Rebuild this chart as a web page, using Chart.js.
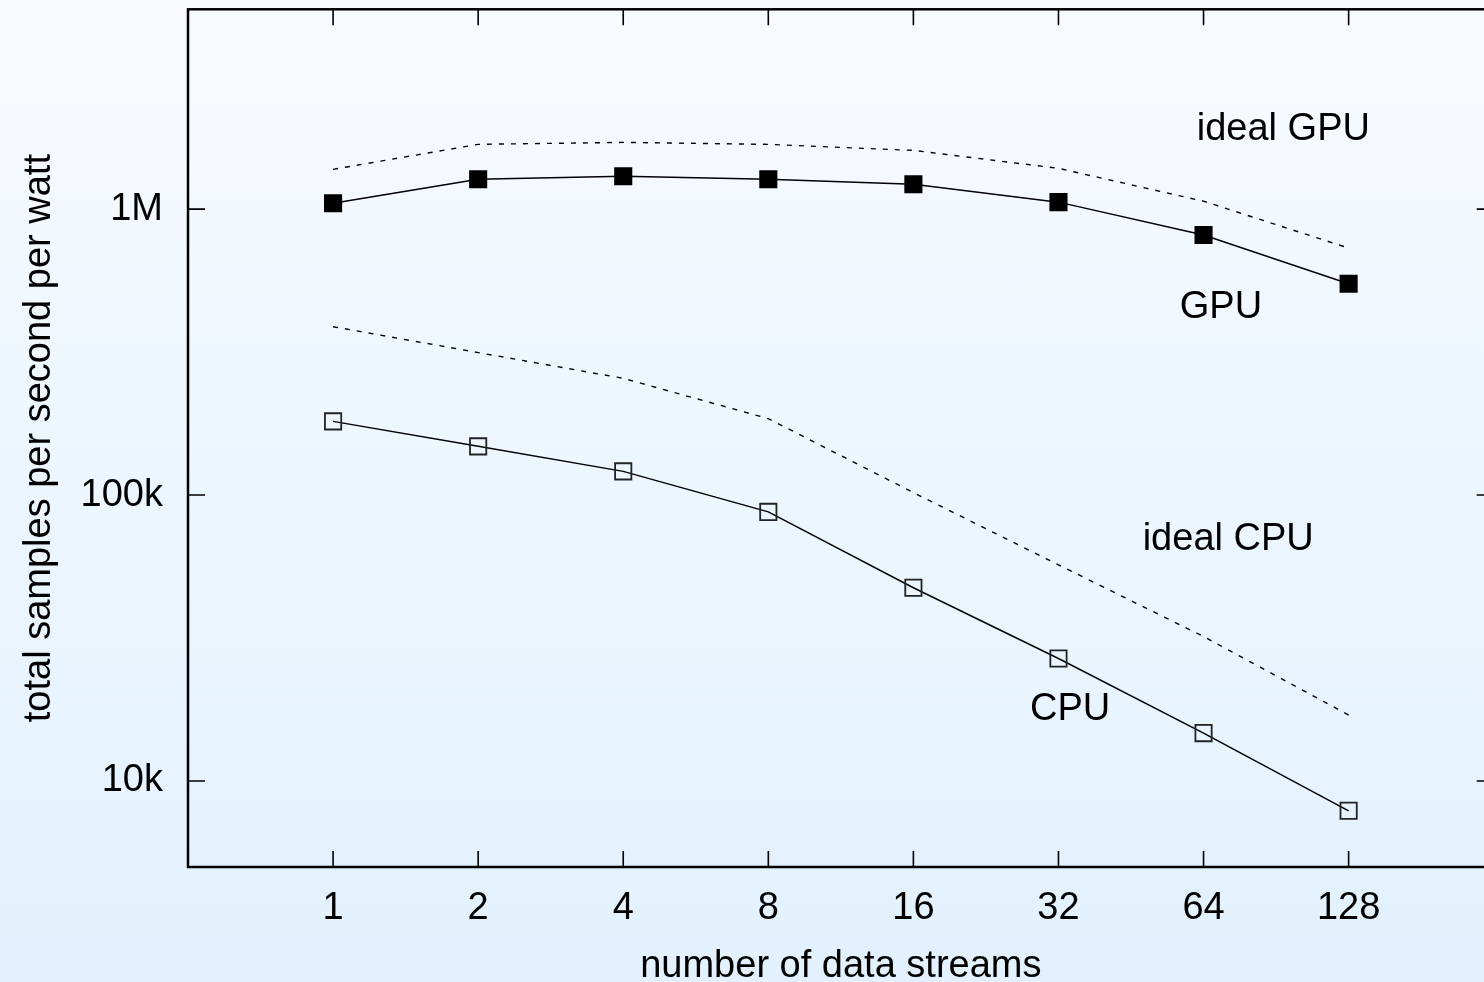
<!DOCTYPE html>
<html>
<head>
<meta charset="utf-8">
<script src="https://cdn.jsdelivr.net/npm/chart.js@4.4.1/dist/chart.umd.min.js"></script>
<style>
  html, body { margin: 0; padding: 0; overflow: hidden; }
  body {
    width: 1484px; height: 982px;
    background: linear-gradient(to bottom, rgb(247,251,255), rgb(226,241,253));
  }
  #wrap { width: 1507px; height: 986px; margin-top: -4px; }
</style>
</head>
<body>
<div id="wrap"><canvas id="chart"></canvas></div>
<script>
// data streams: 1,2,4,...,128 plotted at log2 positions
const streams = [1, 2, 4, 8, 16, 32, 64, 128];
const gpu = [1049000, 1272000, 1303000, 1272000, 1222000, 1058000, 812000, 548000];
const idealGpu = [1378000, 1685000, 1712000, 1685000, 1605000, 1389000, 1066000, 731000];
const cpu = [181000, 148000, 121000, 87300, 47400, 26800, 14700, 7860];
const idealCpu = [388000, 315000, 256000, 185000, 102000, 57000, 32000, 17000];
const yTicks = [10000, 100000, 1000000];
const yTickLabels = ['10k', '100k', '1M'];

// curve labels, placed in data coordinates (x in log2 units)
const labelText = ['ideal GPU', 'GPU', 'ideal CPU', 'CPU'];
const labelX = [6.55, 6.12, 6.17, 5.08];
const labelY = [1900000, 452000, 69700, 17800];

const FONT = '"Liberation Sans", Arial, Helvetica, sans-serif';
const FS = 38;
const pts = (arr) => arr.map((v, i) => ({ x: Math.log2(streams[i]), y: v }));

const noPad = (s) => { s.paddingTop = 0; s.paddingBottom = 0; s.paddingLeft = 0; s.paddingRight = 0; };

const framePlugin = {
  id: 'frame',
  afterDatasetsDraw(chart) {
    const { ctx, chartArea: a, scales: { x, y } } = chart;
    ctx.save();
    ctx.strokeStyle = '#000';
    ctx.lineWidth = 1.6;
    ctx.beginPath();
    streams.forEach((s, i) => {
      const px = x.getPixelForValue(i);
      ctx.moveTo(px, a.bottom); ctx.lineTo(px, a.bottom - 16);
      ctx.moveTo(px, a.top); ctx.lineTo(px, a.top + 16);
    });
    yTicks.forEach(v => {
      const py = y.getPixelForValue(v);
      ctx.moveTo(a.left, py); ctx.lineTo(a.left + 17, py);
      ctx.moveTo(a.right, py); ctx.lineTo(a.right - 17, py);
    });
    ctx.stroke();
    ctx.lineWidth = 2.5;
    ctx.strokeRect(a.left, a.top, a.right - a.left, a.bottom - a.top);

    ctx.fillStyle = '#000';
    ctx.font = FS + 'px ' + FONT;
    ctx.textAlign = 'center';
    ctx.textBaseline = 'middle';
    labelText.forEach((t, i) => {
      ctx.fillText(t, x.getPixelForValue(labelX[i]), y.getPixelForValue(labelY[i]));
    });
    ctx.restore();
  }
};

new Chart(document.getElementById('chart'), {
  type: 'line',
  data: {
    datasets: [
      {
        label: 'GPU',
        data: pts(gpu),
        borderColor: '#000',
        borderWidth: 1.5,
        pointStyle: 'rect',
        pointRadius: 12.8,
        pointBackgroundColor: '#000',
        pointBorderWidth: 0
      },
      {
        label: 'ideal GPU',
        data: pts(idealGpu),
        borderColor: '#000',
        borderWidth: 1.4,
        borderDash: [5, 7],
        pointRadius: 0
      },
      {
        label: 'CPU',
        data: pts(cpu),
        borderColor: '#000',
        borderWidth: 1.5,
        pointStyle: 'rect',
        pointRadius: 11.5,
        pointBackgroundColor: 'rgba(0,0,0,0)',
        pointBorderColor: '#222',
        pointBorderWidth: 1.8
      },
      {
        label: 'ideal CPU',
        data: pts(idealCpu),
        borderColor: '#000',
        borderWidth: 1.4,
        borderDash: [5, 7],
        pointRadius: 0
      }
    ]
  },
  options: {
    responsive: true,
    maintainAspectRatio: false,
    animation: false,
    layout: { padding: { top: 0, right: 6, left: 0, bottom: 0 } },
    plugins: {
      legend: { display: false },
      tooltip: { enabled: false }
    },
    scales: {
      x: {
        type: 'linear',
        min: -1,
        max: 8,
        grid: { display: false },
        border: { display: false },
        afterBuildTicks: (s) => { s.ticks = streams.map((v, i) => ({ value: i })); },
        afterFit: (s) => { s.height = 115; noPad(s); },
        ticks: {
          padding: 11,
          color: '#000',
          font: { family: FONT, size: FS },
          callback: (v) => streams[v]
        },
        title: {
          display: true,
          text: 'number of data streams',
          color: '#000',
          font: { family: FONT, size: FS },
          padding: { top: 0, bottom: -7 }
        }
      },
      y: {
        type: 'logarithmic',
        min: 5000,
        max: 5000000,
        grid: { display: false },
        border: { display: false },
        afterBuildTicks: (s) => { s.ticks = yTicks.map(v => ({ value: v })); },
        afterFit: (s) => { s.width = 188; noPad(s); },
        ticks: {
          padding: 17,
          color: '#000',
          font: { family: FONT, size: FS },
          callback: (v) => yTickLabels[yTicks.indexOf(v)]
        },
        title: {
          display: true,
          text: 'total samples per second per watt',
          color: '#000',
          font: { family: FONT, size: FS },
          padding: { top: 17, bottom: 0 }
        }
      }
    }
  },
  plugins: [framePlugin]
});
</script>
</body>
</html>
